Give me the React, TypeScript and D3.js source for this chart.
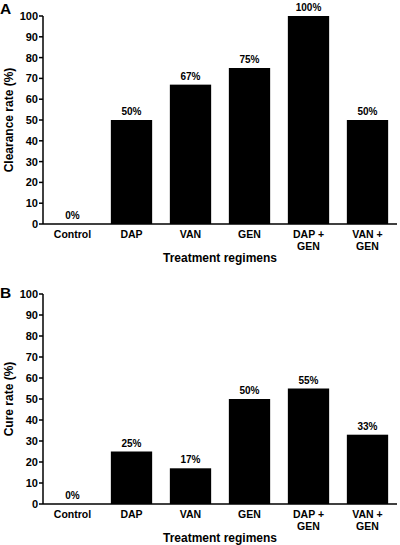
import React from "react";
import * as d3 from "d3";

const categories = ["Control", "DAP", "VAN", "GEN", "DAP +\nGEN", "VAN +\nGEN"];
const clearanceRates = [0, 50, 67, 75, 100, 50];
const cureRates = [0, 25, 17, 50, 55, 33];
const yTicks = [0, 10, 20, 30, 40, 50, 60, 70, 80, 90, 100];

const FONT = "'Liberation Sans', Arial, Helvetica, sans-serif";

type PanelProps = {
  letter: string;
  letterY: number;
  values: number[];
  yTitle: string;
  top: number;
  bottom: number;
};

function Panel({ letter, letterY, values, yTitle, top, bottom }: PanelProps) {
  const left = 43;
  const right = 397;
  const x = d3.scaleBand<string>().domain(categories).range([left, right]).paddingInner(0.3).paddingOuter(0.15);
  const y = d3.scaleLinear().domain([0, 100]).range([bottom, top]);
  return (
    <g fontFamily={FONT} fontWeight="bold" fill="#000">
      <text x={0} y={letterY} fontSize={15.5}>{letter}</text>
      {values.map((v, i) => {
        const c = categories[i];
        const bx = x(c)!;
        return (
          <g key={c}>
            {v > 0 && <rect x={bx} y={y(v)} width={x.bandwidth()} height={bottom - y(v)} fill="#000" />}
            <text x={bx + x.bandwidth() / 2} y={y(v) - 5} fontSize={10} textAnchor="middle">{v}%</text>
            {c.split("\n").map((line, j) => (
              <text key={j} x={bx + x.bandwidth() / 2} y={bottom + 14 + j * 12} fontSize={10.5} textAnchor="middle">{line}</text>
            ))}
          </g>
        );
      })}
      <line x1={left} x2={left} y1={top} y2={bottom} stroke="#000" strokeWidth={1.5} />
      <line x1={left} x2={right} y1={bottom} y2={bottom} stroke="#000" strokeWidth={1.5} />
      {yTicks.map((t) => (
        <g key={t}>
          <line x1={left - 4} x2={left} y1={y(t)} y2={y(t)} stroke="#000" strokeWidth={1.5} />
          <text x={left - 5} y={y(t) + 4} fontSize={11} textAnchor="end">{t}</text>
        </g>
      ))}
      <text
        transform={`translate(13, ${(top + bottom) / 2}) rotate(-90)`}
        fontSize={12}
        textAnchor="middle"
      >{yTitle}</text>
      <text x={(left + right) / 2} y={bottom + 38} fontSize={12} textAnchor="middle">Treatment regimens</text>
    </g>
  );
}

export default function App() {
  return (
    <svg width={400} height={545} style={{ position: "absolute", left: 0, top: 0, background: "#fff" }}>
      <rect width={400} height={545} fill="#fff" />
      <Panel letter="A" letterY={14} values={clearanceRates} yTitle="Clearance rate (%)" top={16} bottom={224} />
      <Panel letter="B" letterY={298} values={cureRates} yTitle="Cure rate (%)" top={294} bottom={504} />
    </svg>
  );
}
